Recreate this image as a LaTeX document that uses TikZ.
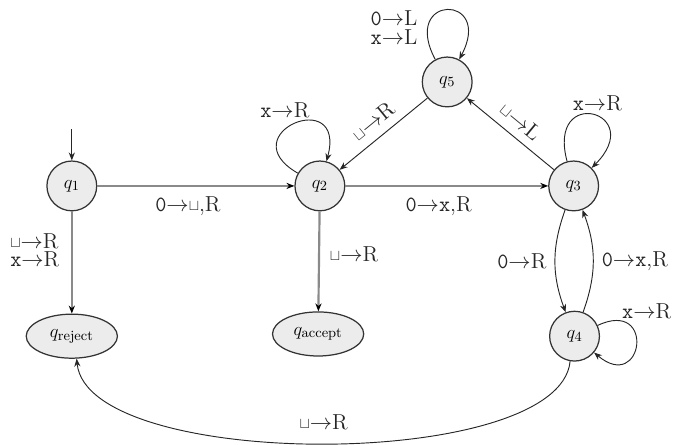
\documentclass[tikz,border=0pt]{standalone}
\usepackage{amsmath}
\usepackage{amssymb}
\usepackage{xcolor}
\usepackage{tikz}
\usetikzlibrary{arrows.meta,positioning,shapes.geometric}
\definecolor{tfill}{HTML}{ECECEC}
\definecolor{tgray}{HTML}{8A8A8A}
\newcommand{\tblank}{\raisebox{0.1ex}{$\scriptstyle\sqcup$}}
\newcommand{\tto}{\ensuremath{\rightarrow}}
\tikzset{
  >={Stealth[length=1.8mm,width=1.4mm]},
  tstate/.style={circle, draw=black!80, fill=tfill, line width=0.8pt,
                 minimum size=11.3mm, inner sep=1pt, font=\fontsize{13}{15}\selectfont},
  thalt/.style={ellipse, draw=black!80, fill=tfill, line width=0.8pt,
                minimum width=20.7mm, minimum height=10mm, inner sep=0pt,
                font=\fontsize{13}{15}\selectfont},
  tedge/.style={->, black!85, line width=0.6pt},
  tmain/.style={-{Stealth[length=1.8mm,width=1.4mm,black]}, tgray, line width=1.4pt},
  tlbl/.style={black!85, font=\fontsize{14}{15}\selectfont, align=left},
}

\begin{document}
\begin{tikzpicture}[x=1cm,y=1cm]

  \useasboundingbox (0,0) rectangle (15.32,10.08);

  % estados
  \node[tstate] (q1) at (1.63,5.86)  {$q_1$};
  \node[tstate] (q2) at (7.26,5.86)  {$q_2$};
  \node[tstate] (q3) at (13.02,5.86) {$q_3$};
  \node[tstate] (q5) at (10.15,8.22) {$q_5$};
  \node[tstate] (q4) at (13.04,2.45) {$q_4$};
  \node[thalt]  (qr) at (1.63,2.45)  {$q_{\text{reject}}$};
  \node[thalt]  (qa) at (7.22,2.5)   {$q_{\text{accept}}$};

  \coordinate (st) at (1.63,7.15);
  \draw[tedge] (st) -- (q1);

  % transicoes principais
  \draw[tmain] (q1) -- node[tlbl, below=3pt, pos=0.46] {\texttt{0}\tto\tblank,R} (q2);
  \draw[tmain] (q2) -- node[tlbl, below=3pt, pos=0.46] {\texttt{0}\tto\texttt{x},R} (q3);
  \draw[tmain] (q1) -- node[tlbl, left=4pt, pos=0.38, align=left]
    {\tblank\tto R\\[-3pt]\texttt{x}\tto R} (qr);
  \draw[tmain] (q2) -- node[tlbl, right=3pt, pos=0.43] {\tblank\tto R} (qa);

  % demais
  \draw[tedge] (q5) -- node[tlbl, above=2pt, sloped] {\tblank\tto R} (q2);
  \draw[tedge] (q3) -- node[tlbl, above=2pt, sloped] {\tblank\tto L} (q5);
  \draw[tedge] (q3) to[bend right=20] node[tlbl, left=2pt] {\texttt{0}\tto R} (q4);
  \draw[tedge] (q4) to[bend right=20] node[tlbl, right=2pt] {\texttt{0}\tto\texttt{x},R} (q3);

  \draw[tedge] (q2) to[out=150, in=75, looseness=6.5]
    node[tlbl, above=0pt, pos=0.5, xshift=-6pt] {\texttt{x}\tto R} (q2);
  \draw[tedge] (q3) to[out=105, in=45, looseness=8]
    node[tlbl, above=0pt, pos=0.55] {\texttt{x}\tto R} (q3);
  \draw[tedge] (q5) to[out=118, in=62, looseness=8]
    node[tlbl, left=3pt, pos=0.2, align=left] {\texttt{0}\tto L\\[-3pt]\texttt{x}\tto L} (q5);
  \draw[tedge] (q4) to[out=25, in=-40, looseness=6]
    node[tlbl, right=-1pt, pos=0.14, yshift=6pt] {\texttt{x}\tto R} (q4);

  \draw[tedge] (q4.-100) .. controls (12.7,-0.62) and (2.0,-0.62) .. (qr.-78)
    node[tlbl, pos=0.5, above=5pt] {\tblank\tto R};

\end{tikzpicture}
\end{document}
